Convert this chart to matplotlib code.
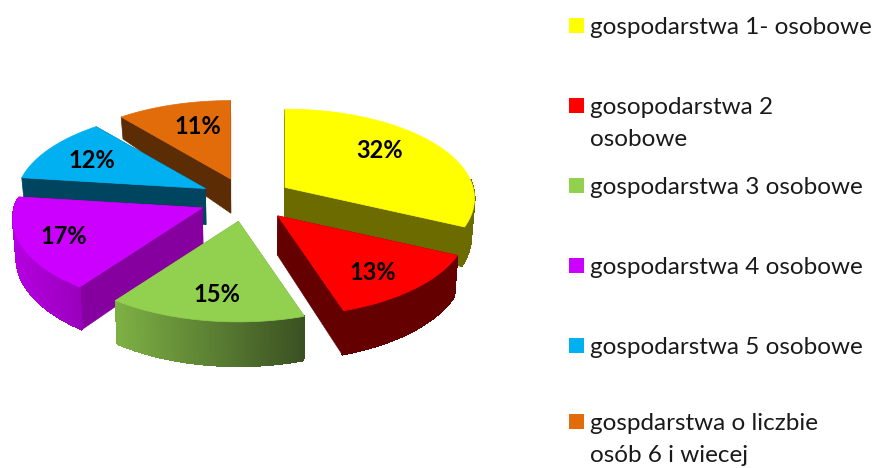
import numpy as np
import matplotlib
matplotlib.use("Agg")
import matplotlib.pyplot as plt
from matplotlib.patches import Polygon, Rectangle
from matplotlib.colors import to_rgb

plt.rcParams['font.family'] = ['Lato', 'DejaVu Sans']

labels = ['gospodarstwa 1- osobowe', 'gosopodarstwa 2\nosobowe',
          'gospodarstwa 3 osobowe', 'gospodarstwa 4 osobowe',
          'gospodarstwa 5 osobowe', 'gospdarstwa o liczbie\nosób 6 i wiecej']
values = [32, 13, 15, 17, 12, 11]

# top face, radial faces, rim at left end, rim at right end
top_colors = ['#FFFF00', '#FF0000', '#92D050', '#CC00FF', '#00B0F0', '#E26B0A']
face_colors = ['#6B6B00', '#640000', '#6F9E3D', '#85009F', '#00455F', '#5C2C04']
rim_left = ['#6B6B00', '#640000', '#7DB044', '#B400E0', '#00455F', '#5C2C04']
rim_right = ['#6B6B00', '#640000', '#3A5022', '#9A00BC', '#00455F', '#5C2C04']

# projection of the tilted pie, in pixels
CX, CY = 246, 199
A, B, K = 188, 88, 0.124
EXPLODE = 0.25
DRAW_ORDER = [5, 4, 3, 0, 1, 2]

label_xy = [(380, 151), (373, 273), (217, 294), (64, 237), (92, 161), (198, 127)]
legend_y = [27, 107, 187, 267, 347, 423]


def project(x, z):
    w = 1 / (1 + K * z)
    return A * x * w, -B * z * w


def depth(z):
    return 38 - 16 * np.maximum(z, 0) + 5 * np.maximum(-z, 0)


def lower(px, py, z):
    # bottom edge of the slice, pulled a little towards the centre
    return px - (px - CX) * 0.015, py + depth(z)


def draw_slice(ax, start, stop, i):
    mid = np.radians((start + stop) / 2)
    ex, ez = EXPLODE * np.sin(mid), EXPLODE * np.cos(mid)
    dx, dy = project(ex, ez)
    ax_, ay_ = CX + dx, CY + dy

    t = np.radians(np.linspace(start, stop, 120))
    ox, oy = project(np.sin(t), np.cos(t))
    rx, ry = ax_ + ox, ay_ + oy
    rz = np.cos(t) + ez
    bx, by = lower(rx, ry, rz)
    abx, aby = lower(ax_, ay_, ez)

    # radial faces
    for j in (0, -1):
        pts = [(ax_, ay_), (rx[j], ry[j]), (bx[j], by[j]), (abx, aby)]
        ax.add_patch(Polygon(pts, fc=face_colors[i], ec=face_colors[i], lw=0.5))

    # rim, shaded along x; the back of the rim is hidden
    c0, c1 = np.array(to_rgb(rim_left[i])), np.array(to_rgb(rim_right[i]))
    xmin, xmax = rx.min(), rx.max()
    for j in range(len(t) - 1):
        if np.cos(t[j]) > 0.1:
            continue
        f = ((rx[j] + rx[j + 1]) / 2 - xmin) / max(xmax - xmin, 1)
        col = c0 + (c1 - c0) * f
        pts = [(rx[j], ry[j]), (rx[j + 1], ry[j + 1]), (bx[j + 1], by[j + 1]), (bx[j], by[j])]
        ax.add_patch(Polygon(pts, fc=col, ec=col, lw=0.8, antialiased=False))

    top = [(ax_, ay_)] + list(zip(rx, ry))
    ax.add_patch(Polygon(top, fc=top_colors[i], ec=top_colors[i], lw=0.5))


fig = plt.figure(figsize=(8.73, 4.68), dpi=100)
ax = fig.add_axes([0, 0, 1, 1])
ax.set_xlim(0, 873)
ax.set_ylim(468, 0)
ax.axis('off')

edges = np.cumsum([0] + values) / sum(values) * 360
for i in DRAW_ORDER:
    draw_slice(ax, edges[i], edges[i + 1], i)

for v, (x, y) in zip(values, label_xy):
    ax.text(x, y, '%d%%' % v, ha='center', va='center', fontsize=17,
            fontweight='bold', color='black', zorder=5)

for lab, y, col in zip(labels, legend_y, top_colors):
    ax.add_patch(Rectangle((569, y - 9), 15, 15, fc=col, ec='none'))
    for n, line in enumerate(lab.split('\n')):
        ax.text(590, y + 7 + n * 32, line, ha='left', va='baseline',
                fontsize=17.5, color='#1a1a1a')

fig.savefig('out.png', dpi=100)
